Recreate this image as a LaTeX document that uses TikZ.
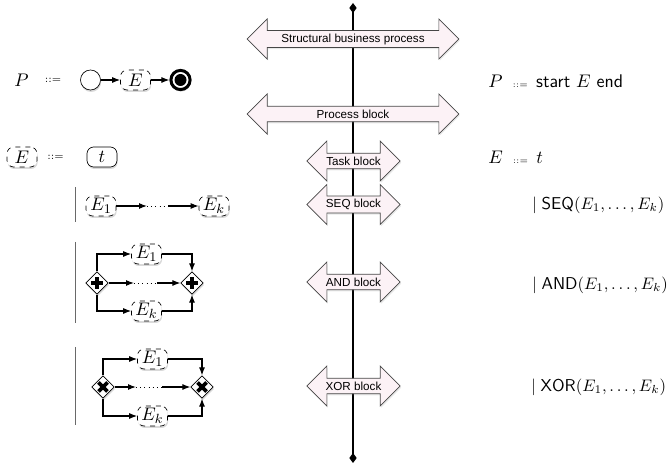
\documentclass[tikz,border=0pt]{standalone}
\usepackage{fontspec}
\newfontfamily\helv{Liberation Sans}
\usepackage{tikz}
\usetikzlibrary{shapes.geometric, shapes.arrows, arrows.meta, shadows}
\definecolor{blockpink}{RGB}{252, 242, 246}
\definecolor{bargray}{RGB}{105, 105, 105}
\definecolor{blockline}{RGB}{70, 70, 70}

\begin{document}
\begin{tikzpicture}[x=0.6pt, y=-0.6pt, font=\fontsize{11}{13}\selectfont,
  softshadow/.style={drop shadow={opacity=0.3, shadow xshift=0.4pt, shadow yshift=-1.2pt}},
  block/.style={double arrow, draw=blockline, fill=blockpink, double arrow head extend=6pt,
    minimum width=24pt, inner sep=1pt, font=\helv\fontsize{7}{8}\selectfont,
    drop shadow={opacity=0.18, shadow xshift=0.6pt, shadow yshift=-1pt}},
  frag/.style={draw, dashed, rounded corners=4pt, fill=white, minimum width=18pt,
    minimum height=12pt, inner sep=0.5pt, softshadow},
  task/.style={frag, solid},
  startevt/.style={circle, draw, fill=white, minimum size=12pt, inner sep=0pt, softshadow},
  endevt/.style={circle, draw, line width=1.8pt, fill=white, minimum size=11.5pt, inner sep=0pt,
    softshadow, path picture={\fill[black] (path picture bounding box.center) circle (3.6pt);}},
  gate/.style={diamond, draw, fill=white, minimum width=13.5pt, minimum height=13.5pt, inner sep=0pt, softshadow},
  andgate/.style={gate, path picture={
    \draw[black, line width=2.2pt] ([xshift=-3.6pt]path picture bounding box.center) -- ([xshift=3.6pt]path picture bounding box.center);
    \draw[black, line width=2.2pt] ([yshift=-3.6pt]path picture bounding box.center) -- ([yshift=3.6pt]path picture bounding box.center);}},
  xorgate/.style={gate, path picture={
    \draw[black, line width=2.2pt] ([shift={(-2.7pt,-2.7pt)}]path picture bounding box.center) -- ([shift={(2.7pt,2.7pt)}]path picture bounding box.center);
    \draw[black, line width=2.2pt] ([shift={(-2.7pt,2.7pt)}]path picture bounding box.center) -- ([shift={(2.7pt,-2.7pt)}]path picture bounding box.center);}},
  flow/.style={line width=0.65pt, -{Latex[length=4.8pt, width=3.6pt]}},
  dots/.style={line width=0.5pt, dotted},
  bar/.style={draw=bargray, line width=0.6pt},
  rule/.style={anchor=west, inner sep=0pt, font=\fontsize{10.3}{12}\selectfont},
  defeq/.style={inner sep=0pt, font=\fontsize{6}{7}\selectfont}]

  \useasboundingbox (0,0) rectangle (667,464);

  % Axis with the block levels
  \coordinate (axistop) at (353,3);
  \coordinate (axisbot) at (353,463);
  \draw[line width=0.7pt, {Diamond[length=6pt, width=4.4pt]}-{Diamond[length=6pt, width=4.4pt]}] (axistop) -- (axisbot);

  \node[block, minimum height=127pt] (sbp) at (353,39) {Structural business process};
  \node[block, minimum height=127pt] (pblock) at (353,114) {Process block};
  \node[block, minimum height=56pt] (tblock) at (353.5,161) {Task block};
  \node[block, minimum height=56pt] (seqblock) at (353.5,204.5) {SEQ block};
  \node[block, minimum height=56pt] (andblock) at (353.5,282) {AND block};
  \node[block, minimum height=56pt] (xorblock) at (353.5,386) {XOR block};

  % Process rule
  \node[inner sep=0pt] (pname) at (21.5,80) {$P$};
  \node[defeq] (pdef) at (53,80) {::=};
  \node[startevt] (start) at (90.5,80) {};
  \node[frag] (pE) at (135.5,80) {$E$};
  \node[endevt] (end) at (180.5,80) {};
  \draw[flow] (start) -- (pE);
  \draw[flow] (pE) -- (end);

  % Fragment rule
  \node[frag] (ename) at (22,157) {$E$};
  \node[defeq] (edef) at (55.5,157) {::=};
  \node[task] (tnode) at (102,157) {$t$};

  % SEQ
  \draw[bar] (75,187) -- (75,222);
  \node[frag] (seqA) at (101,206) {$E_1$};
  \node[frag] (seqB) at (214,206) {$E_k$};
  \coordinate (seqdot1) at (147,206);
  \coordinate (seqdot2) at (168,206);
  \draw[flow] (seqA) -- (seqdot1);
  \draw[dots] (seqdot1) -- (seqdot2);
  \draw[flow] (seqdot2) -- (seqB);

  % AND
  \draw[bar] (75,242) -- (75,323);
  \node[andgate] (andsplit) at (97,283) {};
  \node[andgate] (andjoin) at (192,283) {};
  \node[frag] (andA) at (146.5,254) {$E_1$};
  \node[frag] (andB) at (146.5,311) {$E_k$};
  \coordinate (anddot1) at (134,283);
  \coordinate (anddot2) at (157,283);
  \draw[flow] (andsplit) |- (andA);
  \draw[flow] (andA) -| (andjoin);
  \draw[flow] (andsplit) |- (andB);
  \draw[flow] (andB) -| (andjoin);
  \draw[flow] (andsplit) -- (anddot1);
  \draw[dots] (anddot1) -- (anddot2);
  \draw[flow] (anddot2) -- (andjoin);

  % XOR
  \draw[bar] (75,347) -- (75,425);
  \node[xorgate] (xorsplit) at (103,387) {};
  \node[xorgate] (xorjoin) at (202,387) {};
  \node[frag] (xorA) at (152.5,359) {$E_1$};
  \node[frag] (xorB) at (152.5,416) {$E_k$};
  \coordinate (xordot1) at (136,387);
  \coordinate (xordot2) at (162,387);
  \draw[flow] (xorsplit) |- (xorA);
  \draw[flow] (xorA) -| (xorjoin);
  \draw[flow] (xorsplit) |- (xorB);
  \draw[flow] (xorB) -| (xorjoin);
  \draw[flow] (xorsplit) -- (xordot1);
  \draw[dots] (xordot1) -- (xordot2);
  \draw[flow] (xordot2) -- (xorjoin);

  % Grammar
  \node[rule, font=\fontsize{11}{13}\selectfont] (gramP) at (488,81) {$P$\hspace{6pt}{\fontsize{5}{6}\selectfont ::=}\hspace{5pt}\textsf{start} $E$ \textsf{end}};
  \node[rule, font=\fontsize{11}{13}\selectfont] (gramE) at (488,157) {$E$\hspace{6pt}{\fontsize{5}{6}\selectfont ::=}\hspace{5pt}$t$};
  \node[rule] (gramseq) at (532,205) {$\mid\mathsf{SEQ}(E_1,\ldots,E_k)$};
  \node[rule] (gramand) at (532,285) {$\mid\mathsf{AND}(E_1,\ldots,E_k)$};
  \node[rule] (gramxor) at (531,387) {$\mid\mathsf{XOR}(E_1,\ldots,E_k)$};
\end{tikzpicture}
\end{document}
